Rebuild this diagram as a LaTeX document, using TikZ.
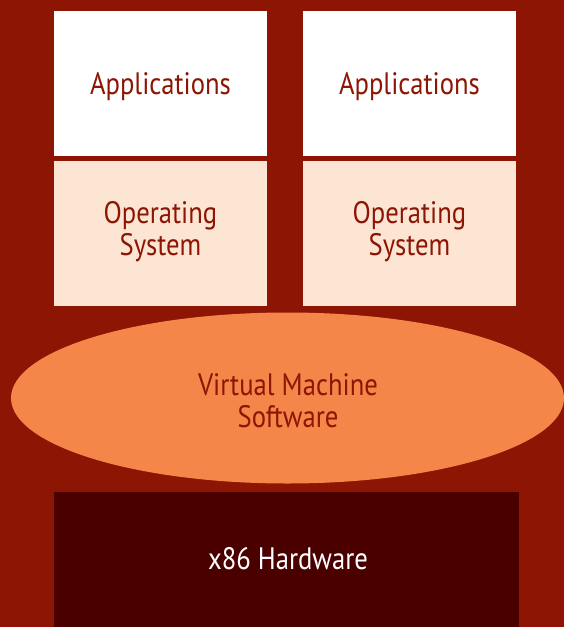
\documentclass[tikz,border=0pt]{standalone}
\usepackage{fontspec}
\setmainfont[FakeStretch=0.86]{PT Sans}
\definecolor{bgred}{HTML}{8C1504}
\definecolor{ospeach}{HTML}{FDE5D3}
\definecolor{vmorange}{HTML}{F4864A}
\definecolor{hwdark}{HTML}{4B0000}
\begin{document}
\begin{tikzpicture}[x=1pt,y=-1pt,
  lbl/.style={font=\fontsize{31}{32}\selectfont, text=bgred, align=center, inner sep=0pt},
  appbox/.style={fill=white, draw=none},
  osbox/.style={fill=ospeach, draw=none}]
\fill[bgred] (0,0) rectangle (564,627);
\useasboundingbox (0,0) rectangle (564,627);
% applications
\fill[appbox] (54,11) rectangle (267,156);
\fill[appbox] (303,11) rectangle (516,156);
\node[lbl] (app1) at (160.5,86.5) {Applications};
\node[lbl] (app2) at (409.5,86.5) {Applications};
% operating systems
\fill[osbox] (54,161) rectangle (267,306);
\fill[osbox] (303,161) rectangle (516,306);
\node[lbl] (os1) at (160.5,231.5) {Operating\\System};
\node[lbl] (os2) at (409.5,231.5) {Operating\\System};
% virtual machine
\fill[vmorange] (287.5,398) ellipse [x radius=276.5, y radius=85.5];
\node[lbl] (vm) at (288,400.5) {Virtual Machine\\Software};
% hardware
\fill[hwdark] (54,492) rectangle (519,627);
\node[lbl, text=white] (hw) at (288,558.5) {x86 Hardware};
\end{tikzpicture}
\end{document}
